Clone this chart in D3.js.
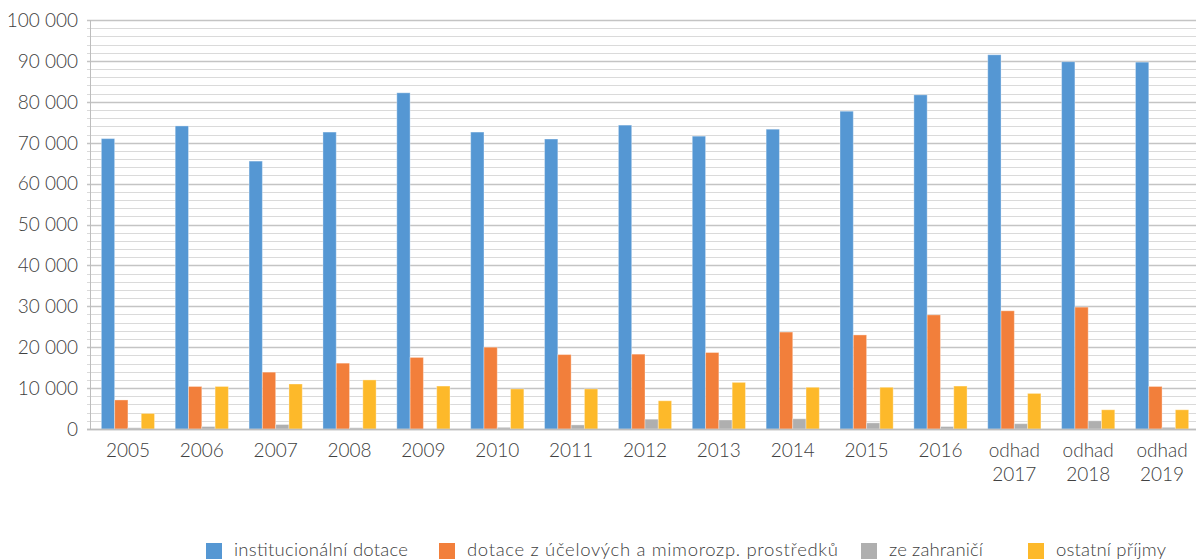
<!DOCTYPE html>
<html>
<head>
<meta charset="utf-8">
<script src="https://cdn.jsdelivr.net/npm/d3@7"></script>
<style>
  html, body { margin: 0; padding: 0; background: #fff; }
  svg { display: block; }
  text { font-family: Lato, "Open Sans", sans-serif; font-weight: 300; fill: #404040; }
</style>
</head>
<body>
<svg id="chart" width="1196" height="560"></svg>
<script>
// Years (the last three are estimates, written on two lines)
const categories = ["2005", "2006", "2007", "2008", "2009", "2010", "2011", "2012",
                    "2013", "2014", "2015", "2016", "odhad 2017", "odhad 2018", "odhad 2019"];

const seriesNames = ["institucionální dotace", "dotace z účelových a mimorozp. prostředků",
                     "ze zahraničí", "ostatní příjmy"];

const institucionalni = [71000, 74100, 65500, 72600, 82200, 72600, 70900, 74300,
                         71600, 73300, 77700, 81700, 91500, 89800, 89700];
const ucelove        = [7100, 10400, 13900, 16100, 17500, 20000, 18200, 18300,
                         18700, 23700, 23000, 27900, 28900, 29800, 10400];
const zahranici      = [300, 600, 1100, 300, 0, 400, 1000, 2400,
                         2200, 2500, 1500, 600, 1300, 2000, 400];
const ostatni        = [3800, 10400, 11000, 12000, 10500, 9800, 9800, 6900,
                         11400, 10200, 10200, 10500, 8700, 4700, 4700];

const yTicks = [0, 10000, 20000, 30000, 40000, 50000, 60000, 70000, 80000, 90000, 100000];
const colors = ["#5597d3", "#f27f3b", "#afafaf", "#fdb92a"];

const series = [institucionalni, ucelove, zahranici, ostatni];

const svg = d3.select("#chart");
const margin = { left: 91, right: -3, top: 20, bottom: 131 };
const W = 1196, H = 560;

const x = d3.scaleBand().domain(categories).range([margin.left, W - margin.right]).paddingInner(0).paddingOuter(0);
const y = d3.scaleLinear().domain([0, 100000]).range([H - margin.bottom, margin.top]);

const groupW = x.bandwidth() * 0.72;
const xs = d3.scaleBand().domain(d3.range(series.length)).range([0, groupW]).padding(0);

// Gridlines every 2 000, stronger every 10 000
const grid = svg.append("g");
const minor = d3.range(0, 100001, 2000);
grid.selectAll("line").data(minor).join("line")
  .attr("x1", margin.left - 4).attr("x2", W)
  .attr("y1", d => Math.round(y(d)) + 0.5).attr("y2", d => Math.round(y(d)) + 0.5)
  .attr("stroke", d => d % 10000 === 0 ? "#c4c4c4" : "#dadada")
  .attr("stroke-width", d => d % 10000 === 0 ? 1.4 : 1);

// Vertical axis line
svg.append("line")
  .attr("x1", margin.left - 0.5).attr("x2", margin.left - 0.5)
  .attr("y1", y(100000)).attr("y2", y(0))
  .attr("stroke", "#bdbdbd").attr("stroke-width", 1);

// Bars
const groups = svg.append("g").selectAll("g").data(categories).join("g")
  .attr("transform", c => `translate(${x(c) + (x.bandwidth() - groupW) / 2},0)`);

groups.selectAll("rect")
  .data((c, i) => series.map((s, k) => ({ k, v: s[i] })))
  .join("rect")
  .attr("x", d => xs(d.k))
  .attr("width", xs.bandwidth())
  .attr("y", d => y(d.v))
  .attr("height", d => y(0) - y(d.v))
  .attr("fill", d => colors[d.k])
  .attr("stroke", "rgba(255,255,255,0.35)")
  .attr("stroke-width", 1);

// Horizontal axis line
svg.append("line")
  .attr("x1", margin.left - 4).attr("x2", W)
  .attr("y1", y(0) + 0.5).attr("y2", y(0) + 0.5)
  .attr("stroke", "#bdbdbd").attr("stroke-width", 1.5);

// Y tick labels, thousands separated by a space
svg.append("g").selectAll("text").data(yTicks).join("text")
  .attr("x", 78).attr("y", d => y(d))
  .attr("dy", "0.36em")
  .attr("text-anchor", "end")
  .attr("font-size", 19)
  .text(d => d3.format(",")(d).replace(/,/g, " "));

// X category labels
const xl = svg.append("g").selectAll("text").data(categories).join("text")
  .attr("text-anchor", "middle")
  .attr("font-size", 19)
  .attr("x", c => x(c) + x.bandwidth() / 2)
  .attr("y", 457);
xl.each(function (c) {
  const parts = c.split(" ");
  const t = d3.select(this);
  parts.forEach((p, i) => {
    t.append("tspan").attr("x", x(c) + x.bandwidth() / 2).attr("dy", i === 0 ? 0 : 24).text(p);
  });
});

// Legend
const legendX = [206, 439, 861, 1028];
const legendTextW = [174, 371, 94, 110];
const leg = svg.append("g").selectAll("g").data(seriesNames).join("g")
  .attr("transform", (d, i) => `translate(${legendX[i]},543)`);
leg.append("rect").attr("width", 16).attr("height", 16).attr("fill", (d, i) => colors[i]);
leg.append("text").attr("x", 28).attr("y", 12.5).attr("font-size", 18.5)
  .attr("textLength", (d, i) => legendTextW[i]).attr("lengthAdjust", "spacing")
  .text(d => d);
</script>
</body>
</html>
